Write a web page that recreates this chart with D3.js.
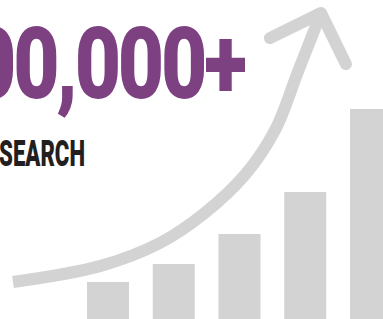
<!DOCTYPE html>
<html>
<head>
<meta charset="utf-8">
<script src="https://cdn.jsdelivr.net/npm/d3@7"></script>
<style>
  body { margin: 0; background: #fff; overflow: hidden; }
  svg { display: block; }
</style>
</head>
<body>
<div id="vis-container"></div>
<script>
// bar heights (same units as the y scale)
const barKeys = [0, 1, 2, 3, 4];
const barValues = [37, 55, 85, 127, 210];

// trend arrow, 0-100 on both axes
const trendX = [0, 28.2, 47.7, 62.3, 75.3, 85.1, 92.5, 100];
const trendY = [0, 5.9, 14.5, 25.7, 39.8, 56.5, 78.1, 100];
// arrow head: left wing, tip, right wing
const headX = [83.4, 100, 108.1];
const headY = [90.7, 100, 81];

const bigLabel = "00,000+";
const subLabel = "SEARCH";

const width = 383;
const height = 319;
const grey = '#d3d3d3';

const svg = d3.select('#vis-container')
  .append('svg')
  .attr('width', width)
  .attr('height', height);

// bars
const x = d3.scaleBand()
  .domain(barKeys)
  .range([87, 392])
  .paddingInner(0.361)
  .paddingOuter(0);

const y = d3.scaleLinear()
  .domain([0, 300])
  .range([height, 19]);

svg.append('g')
  .selectAll('rect')
  .data(barValues)
  .enter()
  .append('rect')
  .attr('x', (d, i) => x(barKeys[i]))
  .attr('y', d => y(d))
  .attr('width', x.bandwidth())
  .attr('height', d => y(0) - y(d))
  .attr('fill', grey);

// trend arrow
const tx = d3.scaleLinear().domain([0, 100]).range([13, 321]);
const ty = d3.scaleLinear().domain([0, 100]).range([282, 13]);

const line = d3.line()
  .x(d => tx(d[0]))
  .y(d => ty(d[1]))
  .curve(d3.curveCatmullRom.alpha(0.5));

svg.append('path')
  .datum(trendX.map((v, i) => [v, trendY[i]]))
  .attr('d', line)
  .attr('fill', 'none')
  .attr('stroke', grey)
  .attr('stroke-width', 12)
  .attr('stroke-linecap', 'butt');

svg.append('path')
  .datum(headX.map((v, i) => [v, headY[i]]))
  .attr('d', line.curve(d3.curveLinear))
  .attr('fill', 'none')
  .attr('stroke', grey)
  .attr('stroke-width', 12)
  .attr('stroke-linecap', 'round')
  .attr('stroke-linejoin', 'round');

// squeeze a text so its box spans x0..x1
function fitText(t, x0, x1) {
  const b = t.node().getBBox();
  const sx = (x1 - x0) / b.width;
  t.attr('transform', `translate(${x0 - b.x * sx},0) scale(${sx},1)`);
}

const big = svg.append('text')
  .attr('x', 0)
  .attr('y', 98)
  .attr('font-family', 'Roboto, sans-serif')
  .attr('font-weight', 900)
  .attr('font-size', 100)
  .attr('letter-spacing', -4)
  .attr('fill', '#7d4182')
  .text(bigLabel);
fitText(big, -30, 245);

const sub = svg.append('text')
  .attr('x', 0)
  .attr('y', 166)
  .attr('font-family', 'Roboto, sans-serif')
  .attr('font-weight', 900)
  .attr('font-size', 36.5)
  .attr('fill', '#231f20')
  .text(subLabel);
fitText(sub, -1, 85);
</script>
</body>
</html>
